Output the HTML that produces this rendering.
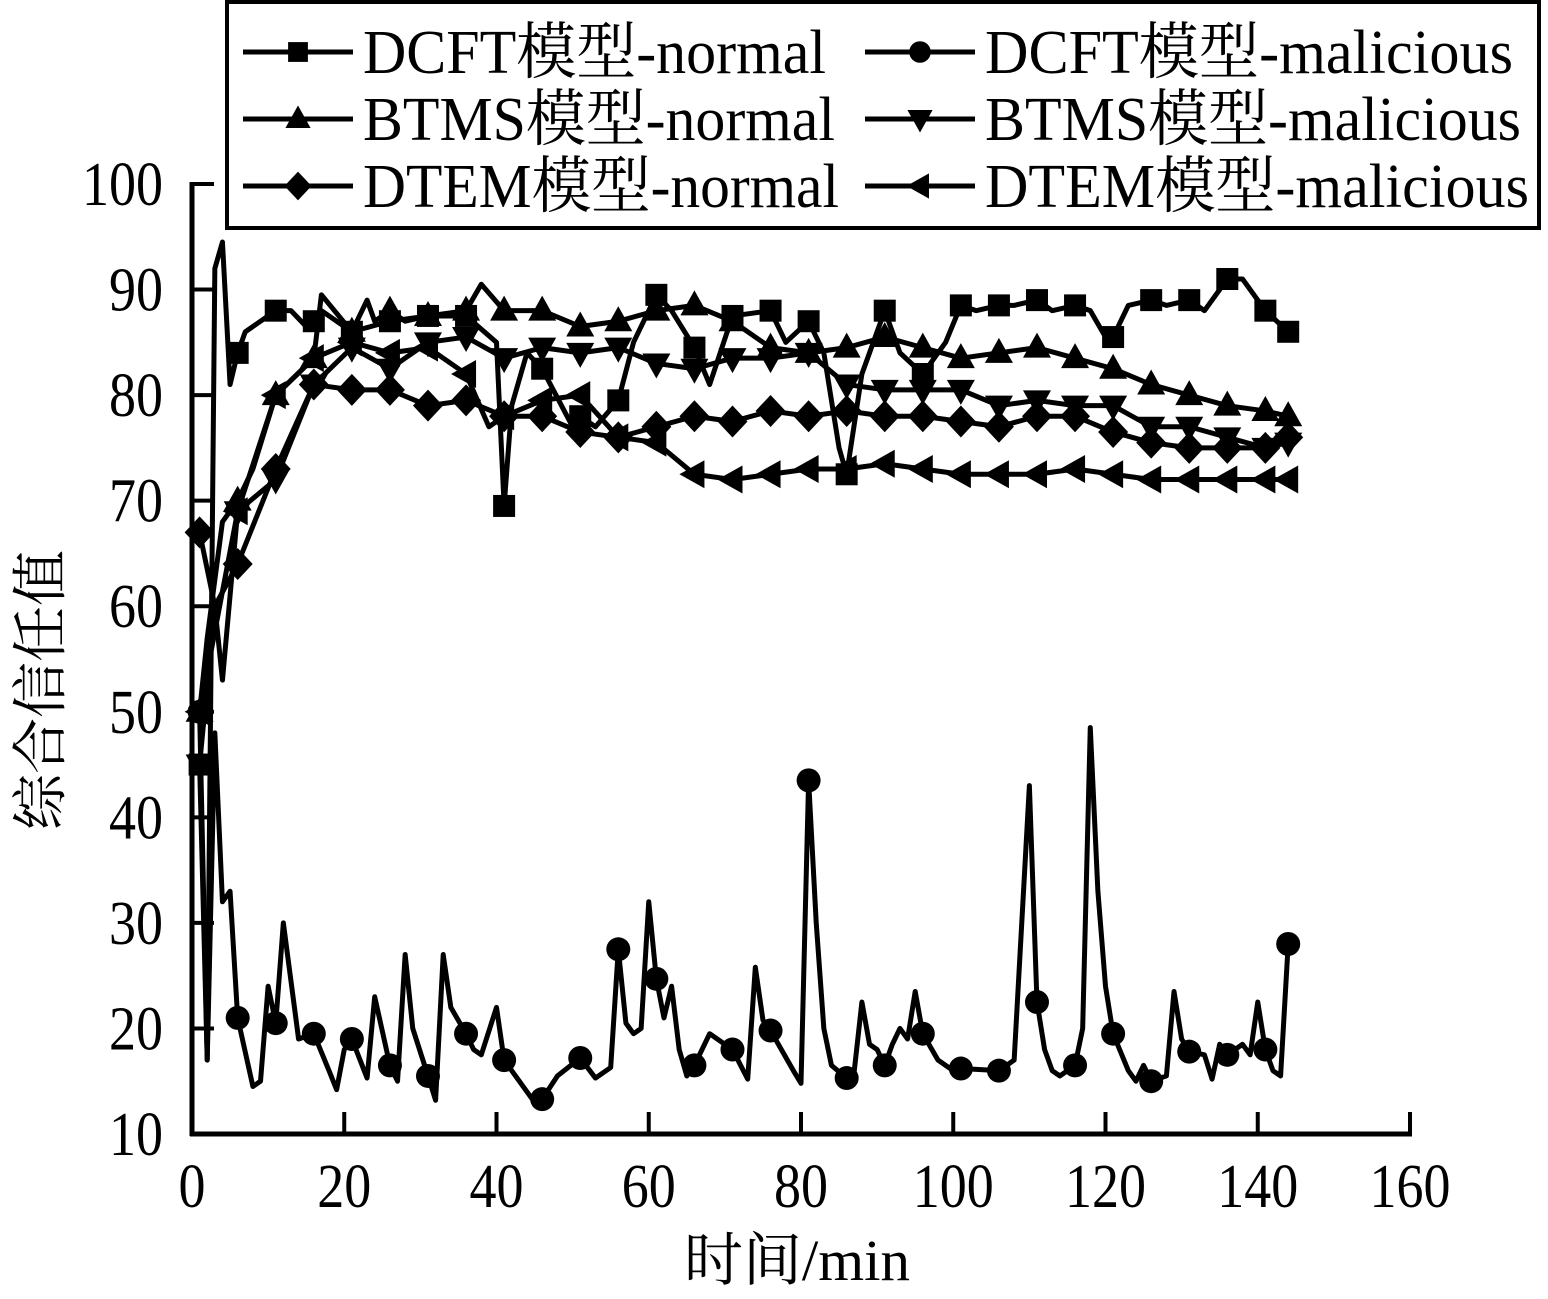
<!DOCTYPE html>
<html><head><meta charset="utf-8"><style>
html,body{margin:0;padding:0;background:#fff}
svg{display:block}
text{font-family:"Liberation Serif","Noto Serif CJK SC","Noto Sans CJK SC",serif;fill:#000}
</style></head><body>
<svg id="chart" width="1548" height="1299" viewBox="0 0 1548 1299" xmlns="http://www.w3.org/2000/svg">
<g id="axes"></g>
<g id="series"></g>
<g id="legend"></g>
</svg>
<script>
const xTicks=[0,20,40,60,80,100,120,140,160];
const yTicks=[10,20,30,40,50,60,70,80,90,100];
const seriesNames=["DCFT模型-normal","DCFT模型-malicious","BTMS模型-normal","BTMS模型-malicious","DTEM模型-normal","DTEM模型-malicious"];
const markT=[1,6,11,16,21,26,31,36,41,46,51,56,61,66,71,76,81,86,91,96,101,106,111,116,121,126,131,136,141,144];

const dcftNormT=[1,2,3,4,5,6,7,10,11,13,15,16,17,19,21,26,31,36,40,41,42,44,46,50,51,53,56,58,61,63,66,68,71,76,78,81,83,85,86,88,90,91,93,96,99,101,103,106,108,111,113,116,118,120,121,123,126,128,131,133,136,138,141,144];
const dcftNormV=[45,17,92,94.5,81,84,86,87.5,88,88,86.5,87,88,87,86,87,87.5,87.5,85,69.5,79,84,82.5,77,78,77,79.5,85,89.5,88,84.5,81,87.5,88,85,87,84,75,72.5,82,86,88,84,82,85,88.5,88,88.5,88.5,89,88,88.5,88,85.5,85.5,88.5,89,88.5,89,88,91,91,88,86];

const dcftMalT=[1,2,3,4,5,6,8,9,10,11,12,14,16,18,19,20,21,23,24,26,27,28,29,31,32,33,34,36,37,38,40,41,43,45,46,48,51,53,55,56,57,58,59,60,61,62,63,64,65,66,68,70,71,73,74,75,76,79,80,81,82,83,84,86,87,88,89,90,91,92,93,94,95,96,98,100,101,106,108,110,111,112,113,114,116,117,118,119,120,121,123,124,125,126,128,129,130,131,133,134,135,136,137,138,139,140,141,142,143,144];
const dcftMalV=[50,17,48,32,33,21,14.5,15,24,20.5,30,19,19.5,16,14.2,18,19,15.3,23,16.5,15,27,20,15.5,13.2,27,22,19.5,18,17.5,22,17,15,13,13.3,15.5,17.2,15.3,16.3,27.5,20.5,19.5,20,32,24.7,21,24,18,15.5,16.5,19.5,18.5,18,15.2,25.8,20.8,19.8,16,14.8,43.5,30,20,16.5,15.3,16,22.5,18.5,18,16.5,18.5,20,19,23.5,19.5,17,16,16.2,16,17,43,22.5,18,16,15.5,16.5,20,48.5,33,24,19.5,16,15,16.5,15,15.5,23.5,19,17.8,17.5,15.2,18.5,17.5,18,18.5,17.5,22.5,18,16,15.5,28];

const btmsNormT=[1,2,4,6,8,11,16,17,21,23,24,26,28,31,36,38,41,46,51,56,61,66,71,76,81,86,91,96,101,106,111,116,121,126,131,136,141,144];
const btmsNormV=[50,57,68,70,73,80,83.5,89.5,86,89,87,88,87,87.5,88,90.5,88,88,86.5,87,88,88.5,87,84.5,84,84.5,85.5,84.5,83.5,84,84.5,83.5,82.5,81,80,79,78.5,78];

const btmsMalT=[0,1,3,4,6,11,16,21,26,31,36,41,46,51,56,61,66,71,76,81,86,91,96,101,106,111,116,121,126,131,136,141,144];
const btmsMalV=[44,45,60,53,69,72,81,84.5,82.5,85,85.5,83.5,84.5,84,84.5,83,82.5,83.5,83.5,84,81,80.5,80.5,80.5,79,79.5,79,79,77,77,76,75,75.5];

const dtemNormT=[0,1,3,6,11,16,21,26,31,36,41,46,51,56,61,66,71,76,81,86,91,96,101,106,111,116,121,126,131,136,141,144];
const dtemNormV=[67,67,60,64,73,81,80.5,80.5,79,79.5,78,78,76.5,76,77,78,77.5,78.5,78,78.5,78,78,77.5,77,78,78,76.5,75.5,75,75,75,76];

const dtemMalT=[1,6,11,16,21,26,31,36,39,41,46,51,56,61,66,71,76,81,86,91,96,101,106,111,116,121,126,131,136,141,144];
const dtemMalV=[50,69,80,83.5,85,84,84.5,82,77,78,79.5,80,76,75.5,72.5,72,72.5,73,73,73.5,73,72.5,72.5,72.5,73,72.5,72,72,72,72,72];

const NS="http://www.w3.org/2000/svg";
const X0=192,X1=1410,Y0=1134,Y1=184;
function sx(v){return X0+(v-0)/(160-0)*(X1-X0);}
function sy(v){return Y0-(v-10)/(100-10)*(Y0-Y1);}
function mk(tag,attrs,parent){const e=document.createElementNS(NS,tag);for(const k in attrs)e.setAttribute(k,attrs[k]);parent.appendChild(e);return e;}

const axes=document.getElementById('axes');
const yl=mk('line',{x1:X0,y1:Y1-2,x2:X0,y2:Y0+2,stroke:'#000','stroke-width':5},axes);


const xl=mk('line',{x1:X0-2,y1:Y0,x2:X1+2,y2:Y0,stroke:'#000','stroke-width':5},axes);


yTicks.forEach(v=>{
  const t=mk('line',{x1:X0,y1:sy(v),x2:X0+22,y2:sy(v),stroke:'#000','stroke-width':4},axes);
  
  
  const s=String(v);
  const l=mk('text',{x:163,y:sy(v)+21,'font-size':62,'text-anchor':'end',textLength:s.length*27,lengthAdjust:'spacingAndGlyphs'},axes);
  l.textContent=s;
  
  
});
xTicks.forEach(v=>{
  if(v>0){const t=mk('line',{x1:sx(v),y1:Y0,x2:sx(v),y2:Y0-22,stroke:'#000','stroke-width':4},axes);
  
  }
  const s=String(v);
  const l=mk('text',{x:sx(v),y:1207,'font-size':62,'text-anchor':'middle',textLength:s.length*27,lengthAdjust:'spacingAndGlyphs'},axes);
  l.textContent=s;
  
  
});
const xt=mk('text',{x:797,y:1280,'font-size':58,'text-anchor':'middle',textLength:226,lengthAdjust:'spacingAndGlyphs'},axes);
xt.textContent='时间/min';


const yt=mk('text',{x:0,y:0,'font-size':56,'text-anchor':'middle',transform:'translate(60,690) rotate(-90)'},axes);
yt.textContent='综合信任值';



function marker(type,x,y,p,k){
  let e;
  if(type==='square')e=mk('rect',{x:x-11*k,y:y-11*k,width:22*k,height:22*k},p);
  else if(type==='circle')e=mk('circle',{cx:x,cy:y,r:12*k},p);
  else if(type==='up')e=mk('polygon',{points:`${x},${y-15*k} ${x-14*k},${y+10*k} ${x+14*k},${y+10*k}`},p);
  else if(type==='down')e=mk('polygon',{points:`${x},${y+15*k} ${x-14*k},${y-10*k} ${x+14*k},${y-10*k}`},p);
  else if(type==='diamond')e=mk('polygon',{points:`${x},${y-16*k} ${x+15*k},${y} ${x},${y+16*k} ${x-15*k},${y}`},p);
  else e=mk('polygon',{points:`${x-15*k},${y} ${x+10*k},${y-14*k} ${x+10*k},${y+14*k}`},p);
  e.setAttribute('fill','#000');
  return e;
}
const sdefs=[[dcftNormT,dcftNormV,'square'],[dcftMalT,dcftMalV,'circle'],[btmsNormT,btmsNormV,'up'],[btmsMalT,btmsMalV,'down'],[dtemNormT,dtemNormV,'diamond'],[dtemMalT,dtemMalV,'left']];
const sg=document.getElementById('series');
sdefs.forEach((d,i)=>{
  const [T,V,m]=d;
  const g=mk('g',{},sg);
  
  
  const pts=T.map((t,j)=>sx(t)+','+sy(V[j])).join(' ');
  const pl=mk('polyline',{points:pts,fill:'none',stroke:'#000','stroke-width':5,'stroke-linejoin':'round'},g);
  
  
  T.forEach((t,j)=>{ if(markT.includes(t)){
    const e=marker(m,sx(t),sy(V[j]),g,1);
    
    
  }});
});

const lg=document.getElementById('legend');
const box=mk('rect',{x:227,y:2,width:1312,height:226,fill:'#fff',stroke:'#000','stroke-width':4},lg);


const lw=[463,528,472,536,476,544];
sdefs.forEach((d,i)=>{
  const col=i%2,row=Math.floor(i/2);
  const lx=col?865:243, cy=52+row*67;
  const g=mk('g',{},lg);
  
  
  mk('line',{x1:lx,y1:cy,x2:lx+110,y2:cy,stroke:'#000','stroke-width':5},g);
  marker(d[2],lx+55,cy,g,0.9);
  const t=mk('text',{x:lx+120,y:cy+21,'font-size':62,textLength:lw[i],lengthAdjust:'spacingAndGlyphs'},g);
  t.textContent=seriesNames[i];
});
</script>
</body></html>
